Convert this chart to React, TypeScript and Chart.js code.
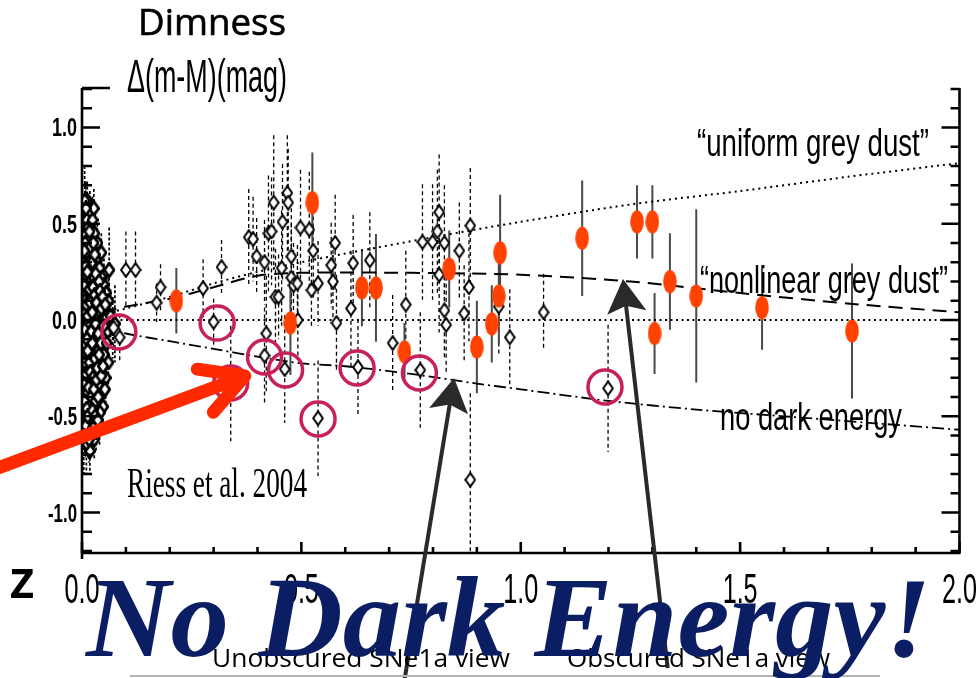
import React, { useEffect, useRef } from "react";
import { Chart, registerables } from "chart.js";

Chart.register(...registerables);

// ---------- data ----------
// low-redshift supernovae (open diamonds)
const lowZ = [0.012, 0.018, 0.008, 0.022, 0.015, 0.028, 0.010, 0.025, 0.035, 0.020, 0.032, 0.006,
  0.014, 0.024, 0.040, 0.045, 0.009, 0.018, 0.030, 0.036, 0.050, 0.055, 0.012, 0.022, 0.042, 0.060, 0.028, 0.062, 0.048, 0.016,
  0.008, 0.020, 0.034, 0.052, 0.065, 0.011, 0.026, 0.040, 0.058, 0.070, 0.015, 0.030, 0.046, 0.075, 0.006,
  0.018, 0.036, 0.050, 0.010, 0.024, 0.042, 0.060, 0.014, 0.030, 0.054, 0.020, 0.007, 0.038,
  0.012, 0.026, 0.046, 0.018, 0.034, 0.009, 0.022, 0.040, 0.014, 0.028, 0.018, 0.010,
  0.005, 0.033, 0.044, 0.027, 0.016, 0.038, 0.005, 0.032, 0.048, 0.023,
  0.004, 0.007, 0.011, 0.013, 0.016, 0.019, 0.021, 0.023, 0.027, 0.029, 0.031, 0.004, 0.007, 0.010, 0.013,
  0.017, 0.019, 0.021, 0.023, 0.025, 0.027, 0.029, 0.031, 0.033, 0.037, 0.039, 0.041, 0.043, 0.044, 0.047,
  0.049, 0.053, 0.056, 0.004, 0.007, 0.009, 0.011, 0.013, 0.015, 0.017, 0.019, 0.021, 0.023, 0.025, 0.027,
  0.029, 0.031, 0.033, 0.035, 0.037, 0.039, 0.041, 0.044, 0.048, 0.052, 0.005, 0.008, 0.011, 0.013, 0.016,
  0.020, 0.024, 0.026, 0.030, 0.036, 0.004, 0.006, 0.009, 0.014, 0.017, 0.024, 0.026, 0.008, 0.005, 0.012];
const lowDm = [0.62, 0.55, 0.50, 0.47, 0.42, 0.45, 0.38, 0.36, 0.40, 0.33, 0.31, 0.30,
  0.28, 0.26, 0.27, 0.22, 0.22, 0.20, 0.19, 0.15, 0.18, 0.14, 0.14, 0.12, 0.10, 0.10, 0.08, 0.26, 0.05, 0.06,
  0.04, 0.02, 0.03, 0.00, 0.02, -0.02, -0.04, -0.03, -0.06, -0.04, -0.08, -0.10, -0.09, -0.02, -0.05,
  -0.14, -0.15, -0.18, -0.18, -0.21, -0.24, -0.22, -0.26, -0.28, -0.30, -0.32, -0.33, -0.34,
  -0.38, -0.40, -0.38, -0.44, -0.46, -0.48, -0.52, -0.55, -0.58, -0.62, -0.68, -0.64,
  0.12, -0.20, 0.35, 0.58, -0.50, 0.05, -0.25, -0.58, -0.45, -0.30,
  0.45, 0.40, 0.52, 0.35, 0.30, 0.38, 0.25, 0.30, 0.22, 0.34, 0.24, 0.18, 0.10, 0.08, 0.02,
  0.16, 0.09, -0.06, 0.04, 0.17, -0.12, 0.13, -0.02, 0.09, -0.07, 0.20, 0.15, -0.12, 0.06, 0.12,
  -0.03, 0.08, -0.12, -0.12, -0.22, -0.28, -0.10, -0.16, -0.35, -0.22, -0.27, -0.40, -0.12, -0.30, -0.36,
  -0.20, -0.42, -0.31, -0.25, -0.40, -0.18, -0.48, -0.29, -0.24, -0.36, -0.42, -0.55, -0.46, -0.50, -0.62,
  -0.58, -0.47, -0.56, -0.50, -0.52, -0.60, 0.62, 0.58, 0.48, 0.46, 0.52, 0.40, 0.28, 0.36, 0.25];
const lowErr = [0.10, 0.12, 0.20, 0.10, 0.15, 0.08, 0.18, 0.12, 0.10, 0.14, 0.12, 0.25,
  0.12, 0.10, 0.14, 0.12, 0.20, 0.10, 0.12, 0.10, 0.14, 0.12, 0.16, 0.10, 0.12, 0.14, 0.10, 0.22, 0.12, 0.10,
  0.18, 0.10, 0.12, 0.10, 0.14, 0.12, 0.10, 0.12, 0.14, 0.16, 0.10, 0.12, 0.14, 0.20, 0.22,
  0.12, 0.10, 0.14, 0.18, 0.12, 0.10, 0.16, 0.12, 0.10, 0.14, 0.12, 0.22, 0.10,
  0.12, 0.10, 0.14, 0.12, 0.10, 0.18, 0.12, 0.10, 0.14, 0.10, 0.12, 0.16,
  0.20, 0.12, 0.10, 0.10, 0.12, 0.10, 0.22, 0.10, 0.12, 0.10,
  0.20, 0.14, 0.10, 0.12, 0.10, 0.12, 0.10, 0.14, 0.10, 0.12, 0.10, 0.22, 0.16, 0.12, 0.10,
  0.12, 0.10, 0.12, 0.10, 0.14, 0.10, 0.12, 0.10, 0.12, 0.10, 0.14, 0.12, 0.10, 0.12, 0.14,
  0.10, 0.12, 0.14, 0.22, 0.18, 0.14, 0.12, 0.10, 0.12, 0.10, 0.12, 0.10, 0.14, 0.10, 0.12,
  0.10, 0.12, 0.10, 0.12, 0.10, 0.12, 0.10, 0.12, 0.14, 0.12, 0.20, 0.16, 0.12, 0.10, 0.12,
  0.10, 0.12, 0.10, 0.12, 0.10, 0.20, 0.18, 0.14, 0.12, 0.10, 0.12, 0.10, 0.16, 0.20, 0.12];

// intermediate / high redshift ground-based SNe (open diamonds)
const midZ = [0.100, 0.122, 0.179, 0.170, 0.276, 0.318, 0.300, 0.416, 0.462, 0.538, 0.072, 0.086,
  0.380, 0.390, 0.425, 0.432, 0.437, 0.457, 0.468, 0.470, 0.498, 0.518,
  0.398, 0.416, 0.455, 0.477, 0.477, 0.482, 0.491, 0.527, 0.538, 0.523,
  0.568, 0.572, 0.577, 0.441, 0.448, 0.420, 0.580, 0.492, 0.618, 0.656,
  0.613, 0.738, 0.708, 0.776, 0.799, 0.814, 0.810, 0.826, 0.814, 0.826,
  0.830, 0.860, 0.885, 0.882, 0.871, 0.950, 0.975, 1.052, 0.885, 1.199,
  0.629, 0.771, 0.339];
const midDm = [0.26, 0.26, 0.17, 0.09, 0.165, 0.275, -0.01, -0.185, -0.255, -0.51, -0.04, -0.09,
  0.43, 0.42, 0.45, 0.46, 0.61, 0.51, 0.66, 0.61, 0.48, 0.47,
  0.33, 0.30, 0.27, 0.33, 0.22, 0.18, 0.19, 0.36, 0.19, 0.155,
  0.285, 0.20, 0.40, 0.12, 0.12, -0.07, -0.015, 0.0, 0.295, 0.31,
  0.06, 0.08, -0.12, 0.405, 0.405, 0.56, 0.46, 0.40, 0.235, 0.05,
  -0.025, 0.36, 0.49, 0.17, 0.035, 0.07, -0.09, 0.04, -0.83, -0.355,
  -0.245, -0.26, -0.33];
const midErr = [0.20, 0.20, 0.12, 0.10, 0.15, 0.14, 0.12, 0.25, 0.28, 0.30, 0.10, 0.12,
  0.25, 0.22, 0.30, 0.28, 0.35, 0.30, 0.30, 0.28, 0.30, 0.30,
  0.20, 0.22, 0.30, 0.25, 0.28, 0.22, 0.20, 0.25, 0.22, 0.20,
  0.22, 0.20, 0.25, 0.25, 0.22, 0.30, 0.25, 0.20, 0.25, 0.25,
  0.30, 0.28, 0.25, 0.30, 0.30, 0.30, 0.32, 0.30, 0.30, 0.25,
  0.25, 0.25, 0.30, 0.28, 0.25, 0.25, 0.25, 0.20, 0.45, 0.33,
  0.25, 0.30, 0.30];

// HST-discovered SNe (filled orange ellipses)
const hstZ = [0.215, 0.525, 0.475, 0.638, 0.670, 0.837, 0.953, 0.950, 0.934, 0.900, 0.735, 1.140, 1.265, 1.300, 1.340, 1.400, 1.305, 1.550, 1.755];
const hstDm = [0.10, 0.61, -0.015, 0.167, 0.167, 0.265, 0.35, 0.125, -0.02, -0.14, -0.165, 0.425, 0.51, 0.51, 0.20, 0.125, -0.07, 0.065, -0.057];
const hstErr = [0.17, 0.26, 0.27, 0.20, 0.28, 0.20, 0.30, 0.25, 0.20, 0.24, 0.15, 0.30, 0.19, 0.19, 0.25, 0.45, 0.21, 0.22, 0.35];

// circled supernovae
const circledZ = [0.084, 0.308, 0.416, 0.464, 0.339, 0.538, 0.627, 0.769, 1.192];
const circledDm = [-0.062, -0.016, -0.192, -0.26, -0.327, -0.514, -0.249, -0.275, -0.348];

// model curves
const uniformZ = [0, 0.05, 0.1, 0.2, 0.3, 0.4, 0.5, 0.6, 0.8, 1.0, 1.25, 1.5, 1.75, 2.0];
const uniformDm = [0, 0.03, 0.06, 0.12, 0.19, 0.25, 0.30, 0.345, 0.43, 0.51, 0.60, 0.67, 0.745, 0.815];
const nonlinearZ = [0, 0.05, 0.1, 0.2, 0.3, 0.4, 0.5, 0.75, 1.0, 1.25, 1.5, 1.75, 2.0];
const nonlinearDm = [0, 0.04, 0.07, 0.11, 0.17, 0.23, 0.245, 0.245, 0.235, 0.2, 0.14, 0.085, 0.04];
const noDeZ = [0, 0.05, 0.1, 0.2, 0.3, 0.4, 0.5, 0.6, 0.75, 0.9, 1.0, 1.2, 1.4, 1.6, 1.8, 2.0];
const noDeDm = [0, -0.04, -0.07, -0.11, -0.15, -0.19, -0.225, -0.24, -0.28, -0.33, -0.36, -0.42, -0.465, -0.5, -0.535, -0.57];

// axes
const xMajorTicks = [0, 0.5, 1.0, 1.5, 2.0];
const xTickLabels = ["0.0", "0.5", "1.0", "1.5", "2.0"];
const yMajorTicks = [1.0, 0.5, 0.0, -0.5, -1.0];
const yTickLabels = ["1.0", "0.5", "0.0", "-0.5", "-1.0"];

// arrows: [tailZ, tailDm, tipZ, tipDm]
const redArrow = [-0.204, -0.779, 0.371, -0.291];
const greyArrow1 = [0.735, -1.87, 0.848, -0.301];
const greyArrow2 = [1.335, -1.808, 1.233, 0.213];

// ---------- helpers ----------
function makeDiamond(stroke: number): HTMLCanvasElement {
  const c = document.createElement("canvas");
  c.width = 12;
  c.height = 16;
  const g = c.getContext("2d")!;
  g.beginPath();
  g.moveTo(6, 1.2);
  g.lineTo(10.8, 8);
  g.lineTo(6, 14.8);
  g.lineTo(1.2, 8);
  g.closePath();
  g.fillStyle = "#ffffff";
  g.fill();
  g.lineWidth = stroke;
  g.strokeStyle = "#000000";
  g.stroke();
  return c;
}

function makeEllipse(): HTMLCanvasElement {
  const c = document.createElement("canvas");
  c.width = 14;
  c.height = 24;
  const g = c.getContext("2d")!;
  g.beginPath();
  g.ellipse(7, 12, 6.8, 11.6, 0, 0, Math.PI * 2);
  g.fillStyle = "#ff4200";
  g.fill();
  return c;
}

function fitText(ctx: CanvasRenderingContext2D, text: string, left: number, baseline: number, font: string, width: number, color = "#000", stroke = 0) {
  ctx.save();
  ctx.font = font;
  ctx.fillStyle = color;
  ctx.textAlign = "left";
  ctx.textBaseline = "alphabetic";
  const w = ctx.measureText(text).width;
  ctx.translate(left, baseline);
  ctx.scale(width / w, 1);
  ctx.fillText(text, 0, 0);
  if (stroke > 0) {
    ctx.strokeStyle = color;
    ctx.lineWidth = stroke;
    ctx.setLineDash([]);
    ctx.strokeText(text, 0, 0);
  }
  ctx.restore();
}

const pts = (xs: number[], ys: number[]) => xs.map((x, i) => ({ x, y: ys[i] }));

export default function App() {
  const ref = useRef<HTMLCanvasElement | null>(null);

  useEffect(() => {
    const canvas = ref.current;
    if (!canvas) return;
    const diamond = makeDiamond(2);
    const diamondLow = makeDiamond(2.8);
    const ellipse = makeEllipse();

    const errorBars = {
      id: "errorBars",
      beforeDatasetsDraw(chart: any) {
        const { ctx, chartArea } = chart;
        const xs = chart.scales.x;
        const ys = chart.scales.y;
        ctx.save();
        ctx.beginPath();
        ctx.rect(chartArea.left - 5, chartArea.top, chartArea.right - chartArea.left + 10, chartArea.bottom - chartArea.top);
        ctx.clip();
        ctx.strokeStyle = "#000";
        const drawBars = (zs: number[], ds: number[], es: number[]) => {
          zs.forEach((z, i) => {
            const x = xs.getPixelForValue(z);
            ctx.beginPath();
            ctx.moveTo(x, ys.getPixelForValue(ds[i] + es[i]));
            ctx.lineTo(x, ys.getPixelForValue(ds[i] - es[i]));
            ctx.stroke();
          });
        };
        ctx.lineWidth = 1.7;
        ctx.setLineDash([3, 2]);
        drawBars(lowZ, lowDm, lowErr);
        ctx.lineWidth = 1.3;
        ctx.setLineDash([4, 3]);
        drawBars(midZ, midDm, midErr);
        ctx.setLineDash([]);
        ctx.strokeStyle = "#4a4a4a";
        ctx.lineWidth = 2;
        drawBars(hstZ, hstDm, hstErr);
        ctx.restore();
      },
    };

    const decorations = {
      id: "decorations",
      afterDraw(chart: any) {
        const { ctx, chartArea } = chart;
        const xs = chart.scales.x;
        const ys = chart.scales.y;
        const { left, right, top, bottom } = chartArea;
        ctx.save();
        ctx.setLineDash([]);
        ctx.strokeStyle = "#000";
        ctx.lineCap = "butt";
        ctx.lineWidth = 2.6;
        ctx.beginPath();
        ctx.moveTo(left, top);
        ctx.lineTo(left, bottom + 6);
        ctx.moveTo(left - 1, bottom);
        ctx.lineTo(right + 1, bottom);
        ctx.moveTo(right, top);
        ctx.lineTo(right, bottom);
        ctx.moveTo(left, top);
        ctx.lineTo(left + 28, top);
        ctx.stroke();
        for (let i = -12; i <= 12; i++) {
          const v = i / 10;
          const y = ys.getPixelForValue(v);
          const major = i % 5 === 0;
          ctx.beginPath();
          ctx.moveTo(left, y);
          ctx.lineTo(left + (major ? 18 : 10), y);
          ctx.moveTo(right, y);
          ctx.lineTo(right - (major ? 18 : 9), y);
          ctx.stroke();
        }
        for (let i = 0; i <= 20; i++) {
          const v = i / 10;
          const x = xs.getPixelForValue(v);
          const major = i % 5 === 0;
          ctx.beginPath();
          ctx.moveTo(x, bottom);
          ctx.lineTo(x, bottom - (major ? 11 : 6));
          ctx.stroke();
        }
        yMajorTicks.forEach((v, i) => {
          const y = ys.getPixelForValue(v);
          const lbl = yTickLabels[i];
          const w = lbl.startsWith("-") ? 29 : 25;
          fitText(ctx, lbl, left - 5 - w, y + 9, "bold 25px 'Liberation Sans', Arial, sans-serif", w);
        });
        xMajorTicks.forEach((v, i) => {
          const x = xs.getPixelForValue(v);
          fitText(ctx, xTickLabels[i], x - 17.5, 603, "42px 'Liberation Sans', Arial, sans-serif", 35);
        });
        fitText(ctx, "Dimness", 138, 35, "36px 'Open Sans', sans-serif", 148, "#000", 0.6);
        fitText(ctx, "Δ(m-M)(mag)", 127, 92, "46px 'Liberation Sans', Arial, sans-serif", 160);
        fitText(ctx, "z", 10, 597, "52px 'Open Sans', sans-serif", 24, "#000", 2);
        fitText(ctx, "“uniform grey dust”", 697, 156, "38px 'Liberation Sans', Arial, sans-serif", 232);
        fitText(ctx, "“nonlinear grey dust”", 700, 293, "38px 'Liberation Sans', Arial, sans-serif", 248);
        fitText(ctx, "no dark energy", 720, 430, "38px 'Liberation Sans', Arial, sans-serif", 182);
        fitText(ctx, "Riess et al. 2004", 127, 497, "42px 'Liberation Serif', 'Times New Roman', serif", 180);

        const px = (z: number) => xs.getPixelForValue(z);
        const py = (d: number) => ys.getPixelForValue(d);
        {
          const tx = px(redArrow[0]), ty = py(redArrow[1]);
          const hx = px(redArrow[2]), hy = py(redArrow[3]);
          const back = Math.atan2(ty - hy, tx - hx);
          ctx.strokeStyle = "#ff2a00";
          ctx.lineWidth = 13;
          ctx.lineCap = "round";
          ctx.lineJoin = "round";
          ctx.beginPath();
          ctx.moveTo(tx, ty);
          ctx.lineTo(hx, hy);
          const L = 48;
          ctx.moveTo(hx + L * Math.cos(back + 0.5), hy + L * Math.sin(back + 0.5));
          ctx.lineTo(hx, hy);
          ctx.lineTo(hx + L * Math.cos(back - 0.5), hy + L * Math.sin(back - 0.5));
          ctx.stroke();
        }
        [greyArrow1, greyArrow2].forEach((a) => {
          const tx = px(a[0]), ty = py(a[1]);
          const hx = px(a[2]), hy = py(a[3]);
          const back = Math.atan2(ty - hy, tx - hx);
          ctx.strokeStyle = "#2a2a2a";
          ctx.fillStyle = "#2a2a2a";
          ctx.lineWidth = 4;
          ctx.lineCap = "butt";
          ctx.beginPath();
          ctx.moveTo(tx, ty);
          ctx.lineTo(hx + 24 * Math.cos(back), hy + 24 * Math.sin(back));
          ctx.stroke();
          const L = 39;
          ctx.beginPath();
          ctx.moveTo(hx, hy);
          ctx.lineTo(hx + L * Math.cos(back + 0.53), hy + L * Math.sin(back + 0.53));
          ctx.lineTo(hx + 27 * Math.cos(back), hy + 27 * Math.sin(back));
          ctx.lineTo(hx + L * Math.cos(back - 0.53), hy + L * Math.sin(back - 0.53));
          ctx.closePath();
          ctx.fill();
        });

        ctx.strokeStyle = "#b4b4b4";
        ctx.lineWidth = 2;
        ctx.beginPath();
        ctx.moveTo(130, 676);
        ctx.lineTo(880, 676);
        ctx.stroke();
        fitText(ctx, "Unobscured SNe1a view", 212, 667, "26px 'Open Sans', sans-serif", 298);
        fitText(ctx, "Obscured SNe1a view", 567, 667, "26px 'Open Sans', sans-serif", 263);

        fitText(ctx, "No Dark Energy!", 86, 656, "bold italic 114px 'Liberation Serif', 'Times New Roman', serif", 845, "#0b1e64");
        ctx.restore();
      },
    };

    const chart = new Chart(canvas, {
      type: "scatter",
      data: {
        datasets: [
          {
            label: "circled",
            data: pts(circledZ, circledDm),
            pointStyle: "circle",
            pointRadius: 17,
            pointBorderWidth: 3.5,
            pointBorderColor: "#c8205a",
            pointBackgroundColor: "rgba(0,0,0,0)",
            order: 0,
          } as any,
          {
            label: "HST",
            data: pts(hstZ, hstDm),
            pointStyle: ellipse,
            pointRadius: 7,
            order: 1,
          } as any,
          {
            label: "ground (intermediate z)",
            data: pts(midZ, midDm),
            pointStyle: diamond,
            pointRadius: 6,
            order: 2,
          } as any,
          {
            label: "ground (low z)",
            data: pts(lowZ, lowDm),
            pointStyle: diamondLow,
            pointRadius: 6,
            order: 3,
          } as any,
          {
            type: "line",
            label: "zero",
            data: [{ x: 0, y: 0 }, { x: 2, y: 0 }],
            borderColor: "#000",
            borderWidth: 2,
            borderDash: [2, 3.5],
            pointRadius: 0,
            order: 4,
          } as any,
          {
            type: "line",
            label: "uniform grey dust",
            data: pts(uniformZ, uniformDm),
            borderColor: "#000",
            borderWidth: 2,
            borderDash: [2, 4],
            pointRadius: 0,
            tension: 0.3,
            order: 5,
          } as any,
          {
            type: "line",
            label: "nonlinear grey dust",
            data: pts(nonlinearZ, nonlinearDm),
            borderColor: "#000",
            borderWidth: 2,
            borderDash: [14, 8],
            pointRadius: 0,
            tension: 0.3,
            order: 6,
          } as any,
          {
            type: "line",
            label: "no dark energy",
            data: pts(noDeZ, noDeDm),
            borderColor: "#000",
            borderWidth: 1.8,
            borderDash: [12, 4, 2, 4],
            pointRadius: 0,
            tension: 0.3,
            order: 7,
          } as any,
        ],
      },
      options: {
        responsive: false,
        devicePixelRatio: 1,
        animation: false,
        events: [],
        layout: { padding: { left: 82, right: 14, top: 88, bottom: 125 } },
        scales: {
          x: { type: "linear", min: 0, max: 2.0, display: false },
          y: { type: "linear", min: -1.21, max: 1.205, display: false },
        },
        plugins: {
          legend: { display: false },
          tooltip: { enabled: false },
        },
      },
      plugins: [errorBars, decorations],
    });
    return () => chart.destroy();
  }, []);

  return (
    <div style={{ position: "fixed", left: 0, top: 0, width: 980, height: 678, background: "#fff", overflow: "hidden" }}>
      <canvas ref={ref} width={980} height={678} style={{ width: 980, height: 678, display: "block" }} />
    </div>
  );
}
